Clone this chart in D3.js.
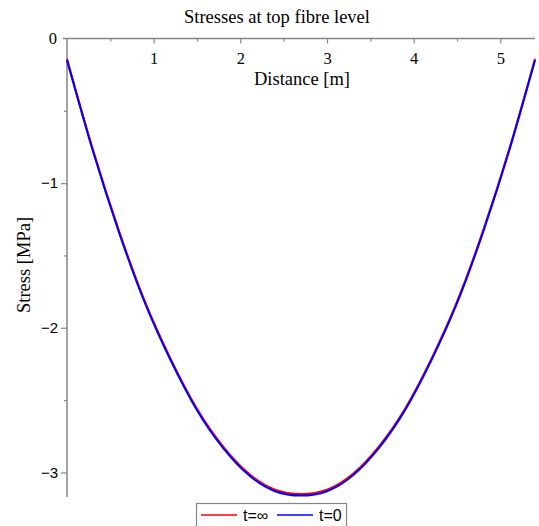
<!DOCTYPE html>
<html>
<head>
<meta charset="utf-8">
<script src="https://cdn.jsdelivr.net/npm/d3@7"></script>
<style>
  body { margin: 0; background: #fff; }
  svg { display: block; }
</style>
</head>
<body>
<div id="chart"></div>
<script>
// distance along the beam [m]
var distance = [0, 0.3, 0.6, 0.9, 1.2, 1.5, 1.8, 2.1, 2.4, 2.7, 3.0, 3.3, 3.6, 3.9, 4.2, 4.5, 4.8, 5.1, 5.4];
// stress at top fibre [MPa], t = infinity
var stressInf = [-0.14, -0.77, -1.33, -1.82, -2.22, -2.56, -2.82, -3.01, -3.12, -3.15, -3.12, -3.01, -2.82, -2.56, -2.22, -1.82, -1.33, -0.77, -0.14];
// stress at top fibre [MPa], t = 0
var stress0 = [-0.15, -0.78, -1.34, -1.83, -2.23, -2.57, -2.83, -3.02, -3.13, -3.16, -3.13, -3.02, -2.83, -2.57, -2.23, -1.83, -1.34, -0.78, -0.15];
var xTicks = [1, 2, 3, 4, 5];
var xMinor = [0.5, 1.5, 2.5, 3.5, 4.5];
var yTicks = [-3, -2, -1];
var yMinor = [-2.5, -1.5, -0.5];

var width = 539, height = 526;
var serif = "'Liberation Serif', 'Times New Roman', serif";
var sans = "'Liberation Sans', Arial, sans-serif";
var axisColor = "#858585";

var svg = d3.select("#chart").append("svg")
    .attr("width", width)
    .attr("height", height);

var x = d3.scaleLinear().domain([0, 5.4]).range([67, 535]);
var y = d3.scaleLinear().domain([-3.17, 0]).range([497, 38.5]);

// axis lines
svg.append("line")
    .attr("x1", x(0) - 4).attr("x2", x(5.4))
    .attr("y1", y(0)).attr("y2", y(0))
    .attr("stroke", axisColor).attr("stroke-width", 1.5);
svg.append("line")
    .attr("x1", x(0)).attr("x2", x(0))
    .attr("y1", y(0)).attr("y2", y(-3.17))
    .attr("stroke", axisColor).attr("stroke-width", 1.5);

// x ticks (pointing down from the top axis)
var xAxis = svg.append("g")
    .attr("transform", "translate(0," + y(0) + ")")
    .call(d3.axisBottom(x).tickValues(xTicks).tickSize(5).tickPadding(9).tickFormat(d3.format("d")));
var xAxisMinor = svg.append("g")
    .attr("transform", "translate(0," + y(0) + ")")
    .call(d3.axisBottom(x).tickValues(xMinor).tickSize(3).tickFormat(""));

// y ticks
var yAxis = svg.append("g")
    .attr("transform", "translate(" + x(0) + ",0)")
    .call(d3.axisLeft(y).tickValues(yTicks).tickSize(6).tickPadding(3)
        .tickFormat(function(d) { return "\u2212" + Math.abs(d); }));
var yAxisMinor = svg.append("g")
    .attr("transform", "translate(" + x(0) + ",0)")
    .call(d3.axisLeft(y).tickValues(yMinor).tickSize(3).tickFormat(""));

[xAxis, xAxisMinor, yAxis, yAxisMinor].forEach(function(g) {
    g.select(".domain").remove();
    g.selectAll(".tick line").attr("stroke", axisColor).attr("stroke-width", 1.2);
});
xAxis.selectAll(".tick text").style("font-family", serif).style("font-size", "16.5px").attr("fill", "#000");
yAxis.selectAll(".tick text").style("font-family", sans).style("font-size", "15px").attr("fill", "#000");

// "0" label at the origin
svg.append("text")
    .attr("x", x(0) - 10).attr("y", y(0))
    .attr("dy", "0.35em")
    .attr("text-anchor", "end")
    .style("font-family", serif).style("font-size", "16.5px")
    .text("0");

// titles
svg.append("text")
    .attr("x", 277).attr("y", 23)
    .attr("text-anchor", "middle")
    .style("font-family", serif).style("font-size", "18.5px")
    .text("Stresses at top fibre level");
svg.append("text")
    .attr("x", 302).attr("y", 85)
    .attr("text-anchor", "middle")
    .style("font-family", serif).style("font-size", "18.5px")
    .text("Distance [m]");
svg.append("text")
    .attr("transform", "translate(30,265) rotate(-90)")
    .attr("text-anchor", "middle")
    .style("font-family", serif).style("font-size", "18.5px")
    .text("Stress [MPa]");

// curves
var line = d3.line().curve(d3.curveNatural);
var seriesList = [
    { name: "t=\u221e", values: stressInf, color: "#ff0000" },
    { name: "t=0", values: stress0, color: "#0000ff" }
];
seriesList.forEach(function(s) {
    svg.append("path")
        .attr("d", line(distance.map(function(d, i) { return [x(d), y(s.values[i])]; })))
        .attr("fill", "none")
        .attr("stroke", s.color)
        .attr("stroke-width", 2);
});

// legend
var legend = svg.append("g");
legend.append("rect")
    .attr("x", 196.5).attr("y", 503.5)
    .attr("width", 150).attr("height", 28)
    .attr("fill", "#fff")
    .attr("stroke", axisColor).attr("stroke-width", 1.2);
var legendX = [201, 277];
seriesList.forEach(function(s, i) {
    legend.append("line")
        .attr("x1", legendX[i]).attr("x2", legendX[i] + 36)
        .attr("y1", 515).attr("y2", 515)
        .attr("stroke", s.color).attr("stroke-width", 1.5);
    legend.append("text")
        .attr("x", legendX[i] + 42).attr("y", 520.5)
        .style("font-family", sans).style("font-size", "16px")
        .text(s.name);
});
</script>
</body>
</html>
